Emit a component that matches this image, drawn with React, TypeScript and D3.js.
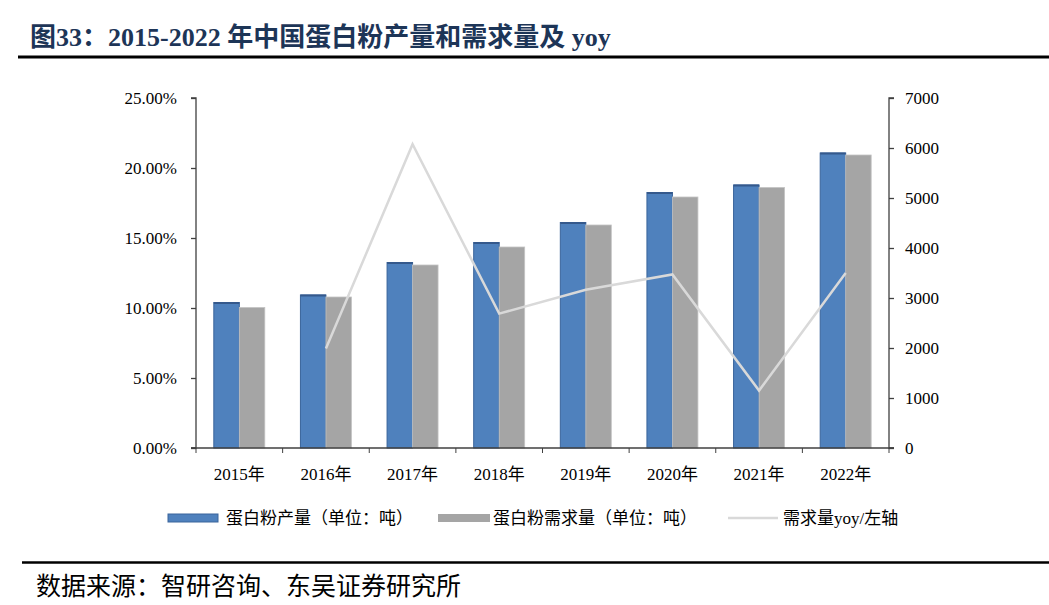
import React, { useEffect, useRef } from 'react';
import * as d3 from 'd3';

const categories = ['2015年', '2016年', '2017年', '2018年', '2019年', '2020年', '2021年', '2022年'];
const production = [2910, 3060, 3710, 4110, 4510, 5110, 5260, 5900];
const demand = [2810, 3020, 3660, 4020, 4460, 5020, 5210, 5860];
const demandYoy: (number | null)[] = [null, 0.071, 0.217, 0.096, 0.113, 0.124, 0.041, 0.125];
const leftTicks = [0, 0.05, 0.1, 0.15, 0.2, 0.25];
const rightTicks = [0, 1000, 2000, 3000, 4000, 5000, 6000, 7000];

const WIDTH = 1049;
const HEIGHT = 605;
const SERIF = '"Liberation Serif", "Times New Roman", "Noto Sans CJK SC", serif';
const CJK = '"Noto Sans CJK SC", "Liberation Serif", serif';

const App: React.FC = () => {
  const svgRef = useRef<SVGSVGElement>(null);

  useEffect(() => {
    if (!svgRef.current) return;
    const svg = d3.select(svgRef.current);
    svg.selectAll('*').remove();

    const left = 196;
    const right = 889;
    const top = 98;
    const bottom = 448;

    const x = d3.scaleBand<string>().domain(categories).range([left, right]);
    const yLeft = d3.scaleLinear().domain([0, 0.25]).range([bottom, top]);
    const yRight = d3.scaleLinear().domain([0, 7000]).range([bottom, top]);
    const barW = 25.5;
    const center = (i: number) => (x(categories[i]) as number) + x.bandwidth() / 2;

    // title
    svg.append('text')
      .attr('x', 30)
      .attr('y', 46)
      .attr('font-family', SERIF)
      .attr('font-weight', 'bold')
      .attr('font-size', 26)
      .attr('fill', '#1d3557')
      .text('图33：2015-2022 年中国蛋白粉产量和需求量及 yoy');

    svg.append('line')
      .attr('x1', 18).attr('x2', WIDTH)
      .attr('y1', 57).attr('y2', 57)
      .attr('stroke', '#000').attr('stroke-width', 3);

    // bars
    const g = svg.append('g');
    g.selectAll('rect.prod')
      .data(production)
      .enter()
      .append('rect')
      .attr('class', 'prod')
      .attr('x', (_, i) => center(i) - barW)
      .attr('y', d => yRight(d))
      .attr('width', barW)
      .attr('height', d => bottom - yRight(d))
      .attr('fill', '#4f81bd')
      .attr('stroke', '#3a649b')
      .attr('stroke-width', 1);

    g.selectAll('line.prodTop')
      .data(production)
      .enter()
      .append('line')
      .attr('x1', (_, i) => center(i) - barW)
      .attr('x2', (_, i) => center(i))
      .attr('y1', d => yRight(d) + 0.5)
      .attr('y2', d => yRight(d) + 0.5)
      .attr('stroke', '#35598c')
      .attr('stroke-width', 2);

    g.selectAll('rect.dem')
      .data(demand)
      .enter()
      .append('rect')
      .attr('class', 'dem')
      .attr('x', (_, i) => center(i))
      .attr('y', d => yRight(d))
      .attr('width', barW)
      .attr('height', d => bottom - yRight(d))
      .attr('fill', '#a5a5a5')
      .attr('stroke', '#c4c4c4')
      .attr('stroke-width', 0.8);

    // yoy line
    const line = d3.line<number | null>()
      .defined(d => d !== null)
      .x((_, i) => center(i))
      .y(d => yLeft(d as number));

    g.append('path')
      .datum(demandYoy)
      .attr('d', line)
      .attr('fill', 'none')
      .attr('stroke', '#d9d9d9')
      .attr('stroke-width', 2.5)
      .attr('stroke-linejoin', 'miter');

    // axes
    const axisColor = '#404040';
    const leftAxis = svg.append('g')
      .attr('transform', `translate(${left},0)`)
      .call(d3.axisLeft(yLeft).tickValues(leftTicks).tickSize(5).tickPadding(14).tickFormat(d => (+d * 100).toFixed(2) + '%'));
    const rightAxis = svg.append('g')
      .attr('transform', `translate(${right},0)`)
      .call(d3.axisRight(yRight).tickValues(rightTicks).tickSize(5).tickPadding(11).tickFormat(d3.format('d')));
    const bottomAxis = svg.append('g')
      .attr('transform', `translate(0,${bottom})`)
      .call(d3.axisBottom(x).tickSize(0).tickPadding(20));

    // category boundary ticks
    svg.append('g')
      .selectAll('line')
      .data(d3.range(categories.length + 1))
      .enter()
      .append('line')
      .attr('x1', i => left + i * x.step())
      .attr('x2', i => left + i * x.step())
      .attr('y1', bottom)
      .attr('y2', bottom + 5)
      .attr('stroke', axisColor);

    [leftAxis, rightAxis, bottomAxis].forEach(ax => {
      ax.select('.domain').attr('stroke', axisColor).attr('stroke-width', 1.3);
      ax.selectAll('.tick line').attr('stroke', axisColor).attr('stroke-width', 1.3);
      ax.selectAll('.tick text')
        .attr('font-family', SERIF)
        .attr('font-size', 17)
        .attr('fill', '#000');
    });
    leftAxis.select('.domain').attr('d', `M-5,${top}H0V${bottom}H-5`);
    rightAxis.select('.domain').attr('d', `M5,${top}H0V${bottom}H5`);
    bottomAxis.select('.domain').attr('d', `M${left - 5},0H${right + 5}`);

    // legend
    const legendY = 518;
    const legend = svg.append('g').attr('font-family', CJK).attr('font-size', 17).attr('fill', '#000');
    legend.append('rect')
      .attr('x', 168).attr('y', legendY - 4).attr('width', 50).attr('height', 8)
      .attr('fill', '#4f81bd').attr('stroke', '#3a649b');
    legend.append('text').attr('x', 226).attr('y', legendY + 6).text('蛋白粉产量（单位：吨）');
    legend.append('rect')
      .attr('x', 438).attr('y', legendY - 4).attr('width', 52).attr('height', 8)
      .attr('fill', '#a5a5a5');
    legend.append('text').attr('x', 493).attr('y', legendY + 6).text('蛋白粉需求量（单位：吨）');
    legend.append('line')
      .attr('x1', 728).attr('x2', 778).attr('y1', legendY).attr('y2', legendY)
      .attr('stroke', '#d9d9d9').attr('stroke-width', 2.5);
    legend.append('text').attr('x', 783).attr('y', legendY + 6)
      .html('需求量<tspan font-family=\'"Liberation Serif", serif\'>yoy/</tspan>左轴');

    // footer
    svg.append('line')
      .attr('x1', 22).attr('x2', WIDTH)
      .attr('y1', 562.5).attr('y2', 562.5)
      .attr('stroke', '#000').attr('stroke-width', 2.5);
    svg.append('text')
      .attr('x', 36)
      .attr('y', 595)
      .attr('font-family', CJK)
      .attr('font-size', 25)
      .attr('fill', '#000')
      .text('数据来源：智研咨询、东吴证券研究所');
  }, []);

  return (
    <div style={{ position: 'absolute', left: 0, top: 0 }}>
      <svg ref={svgRef} width={WIDTH} height={HEIGHT} style={{ display: 'block', background: '#fff' }} />
    </div>
  );
};

export default App;
